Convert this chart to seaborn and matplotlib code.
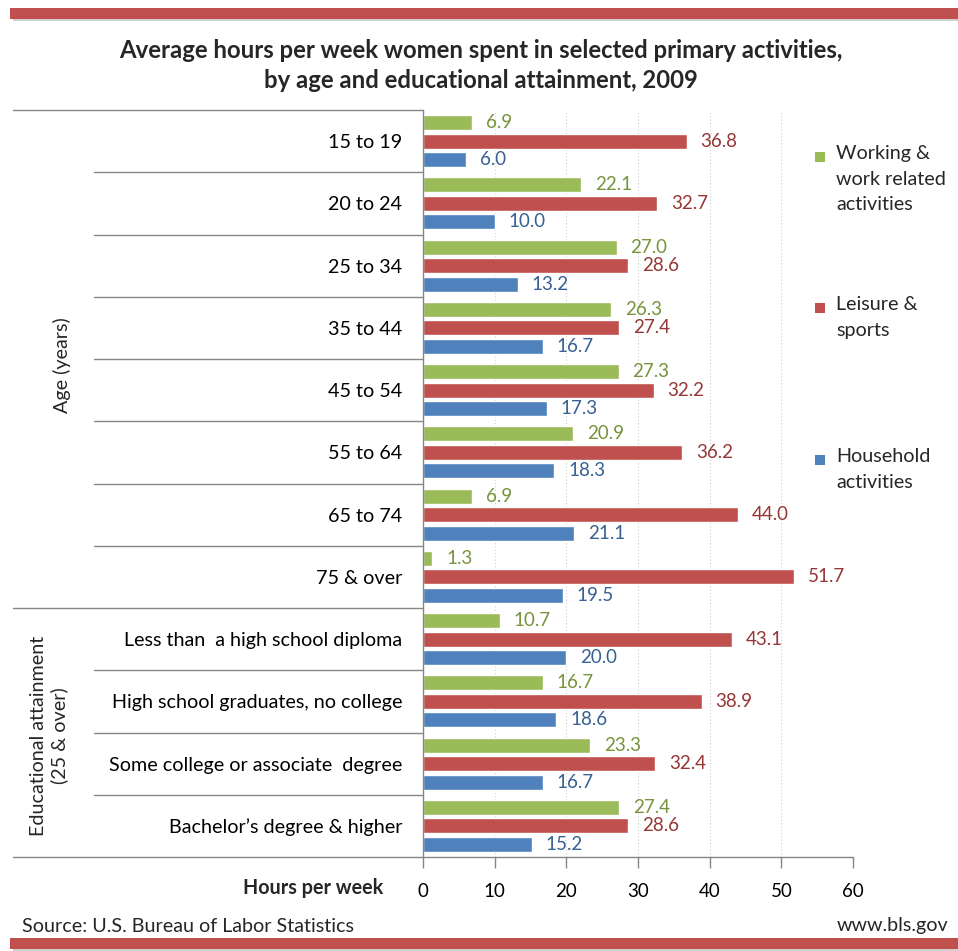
import matplotlib
matplotlib.use("Agg")
import matplotlib.pyplot as plt
import seaborn as sns
import pandas as pd
from matplotlib.patches import Rectangle
from matplotlib.lines import Line2D
import matplotlib.transforms as mtrans

categories = ["15 to 19", "20 to 24", "25 to 34", "35 to 44", "45 to 54", "55 to 64",
              "65 to 74", "75 & over", "Less than  a high school diploma",
              "High school graduates, no college", "Some college or associate  degree",
              "Bachelor\u2019s degree & higher"]
series = ["Working &\nwork related\nactivities", "Leisure &\nsports", "Household\nactivities"]
working = [6.9, 22.1, 27.0, 26.3, 27.3, 20.9, 6.9, 1.3, 10.7, 16.7, 23.3, 27.4]
leisure = [36.8, 32.7, 28.6, 27.4, 32.2, 36.2, 44.0, 51.7, 43.1, 38.9, 32.4, 28.6]
household = [6.0, 10.0, 13.2, 16.7, 17.3, 18.3, 21.1, 19.5, 20.0, 18.6, 16.7, 15.2]
x_ticks = [0, 10, 20, 30, 40, 50, 60]

bar_colors = ["#9BBB59", "#C0504D", "#4F81BD"]
label_colors = ["#77933C", "#953735", "#376092"]

rows = []
for s, vals in zip(series, [working, leisure, household]):
    for c, v in zip(categories, vals):
        rows.append({"cat": c, "series": s, "value": v})
df = pd.DataFrame(rows)

sns.set_theme(style="white")
plt.rcParams["font.family"] = ["Lato", "DejaVu Sans"]

FS = 14.2
fig = plt.figure(figsize=(9.58, 9.51), dpi=100)
W, H = 958, 951
ax = fig.add_axes([423 / W, 1 - 857 / H, 430 / W, (857 - 110) / H])

sns.barplot(data=df, y="cat", x="value", hue="series", order=categories,
            hue_order=series, palette=bar_colors, orient="h", width=0.89,
            gap=0.18, ax=ax, legend=False, saturation=1)

for cont, lc in zip(ax.containers, label_colors):
    ax.bar_label(cont, fmt="%.1f", padding=10, color=lc, fontsize=13.5)

ax.set_xlim(0, 60)
ax.set_ylim(11.5, -0.5)
ax.set_xticks(x_ticks)
ax.set_xticklabels([str(t) for t in x_ticks], fontsize=13.5, color="#000000")
ax.set_xlabel("")
ax.set_ylabel("")
ax.set_yticks(range(len(categories)))
ax.set_yticklabels(categories, fontsize=FS, color="#000000")
ax.tick_params(axis="y", length=0, pad=15)
ax.tick_params(axis="x", length=8, width=1, color="#868686", direction="out", pad=11, bottom=True)

for x in x_ticks[1:]:
    ax.axvline(x, color="#D0D0D0", lw=0.8, ls=(0, (1, 2)), zorder=0)

for sp in ["top", "right"]:
    ax.spines[sp].set_visible(False)
for sp in ["left", "bottom"]:
    ax.spines[sp].set_color("#868686")
    ax.spines[sp].set_linewidth(1)

# category dividers
trans = mtrans.blended_transform_factory(ax.transAxes, ax.transData)
x_outer = (13 - 423) / 430
x_inner = (94 - 423) / 430
for y in [i + 0.5 for i in range(-1, 12)]:
    x0 = x_outer if y in (-0.5, 7.5, 11.5) else x_inner
    ax.add_line(Line2D([x0, 0], [y, y], transform=trans, color="#868686", lw=1, clip_on=False))

# group labels
fig.text(62 / W, 1 - 365 / H, "Age (years)", rotation=90,
         ha="center", va="center", fontsize=FS)
fig.text(49 / W, 1 - 736 / H, "Educational attainment\n(25 & over)", rotation=90,
         ha="center", va="center", fontsize=FS, linespacing=1.25)

# x label
fig.text(383 / W, 1 - 888 / H, "Hours per week", ha="right", va="center",
         fontsize=FS, fontweight="bold")

# title
fig.text(481 / W, 1 - 51 / H, "Average hours per week women spent in selected primary activities,",
         ha="center", va="center", fontsize=17.2, fontweight="bold")
fig.text(481 / W, 1 - 81 / H, "by age and educational attainment, 2009",
         ha="center", va="center", fontsize=17.2, fontweight="bold")

# legend (manual)
legend_y = [157, 308, 460]
for s, col, y in zip(series, bar_colors, legend_y):
    fig.patches.append(Rectangle((815 / W, 1 - (y + 5) / H), 10 / W, 10 / H,
                                 transform=fig.transFigure, facecolor=col, edgecolor="none"))
    fig.text(836 / W, 1 - (y - 12) / H, s, ha="left", va="top", fontsize=FS, linespacing=1.62)

# source
fig.text(22 / W, 1 - 926 / H, "Source: U.S. Bureau of Labor Statistics", ha="left",
         va="center", fontsize=FS)
fig.text(948 / W, 1 - 926 / H, "www.bls.gov", ha="right", va="center", fontsize=FS)

# red bands
for y0 in [8, 938]:
    fig.patches.append(Rectangle((13 / W, 1 - (y0 + 13) / H), 945 / W, 3 / H,
                                 transform=fig.transFigure, facecolor="#D0D0D0", edgecolor="none"))
    fig.patches.append(Rectangle((10 / W, 1 - (y0 + 11) / H), 948 / W, 11 / H,
                                 transform=fig.transFigure, facecolor="#C0504D", edgecolor="none"))

fig.savefig("out.png", dpi=100)
